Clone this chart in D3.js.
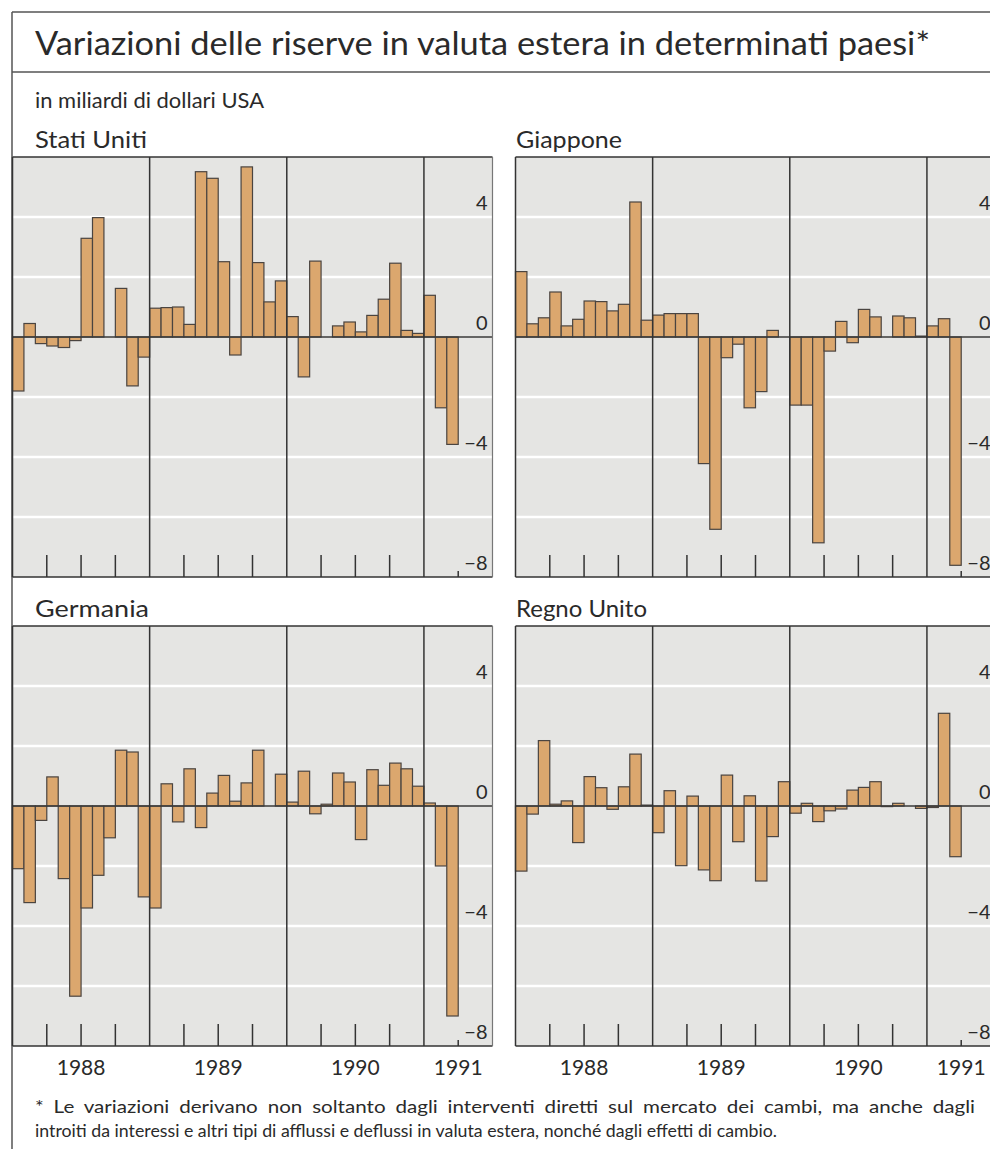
<!DOCTYPE html>
<html><head><meta charset="utf-8">
<script src="https://cdn.jsdelivr.net/npm/d3@7"></script>
<style>body{margin:0;background:#fff}svg{display:block}</style>
</head><body>
<svg id="c" width="990" height="1149"></svg>
<script>
// ---- data ----
const years = ["1988", "1989", "1990", "1991"];
const monthsOnAxis = 42;          // Jan 1988 .. Jun 1991 axis span
const countries = ["Stati Uniti", "Giappone", "Germania", "Regno Unito"];
const usa = [
  -1.8, 0.45, -0.22, -0.3, -0.35, -0.12, 3.29, 3.98, 0, 1.62, -1.63, -0.67,
  0.96, 0.98, 1.0, 0.42, 5.51, 5.29, 2.51, -0.6, 5.67, 2.48, 1.17, 1.87,
  0.68, -1.33, 2.53, 0, 0.37, 0.5, 0.17, 0.72, 1.26, 2.46, 0.22, 0.12,
  1.39, -2.36, -3.58
];
const japan = [
  2.18, 0.44, 0.64, 1.5, 0.37, 0.59, 1.2, 1.18, 0.87, 1.09, 4.5, 0.56,
  0.73, 0.78, 0.78, 0.78, -4.22, -6.41, -0.69, -0.24, -2.36, -1.82, 0.22, 0,
  -2.27, -2.27, -6.86, -0.47, 0.52, -0.19, 0.92, 0.67, 0, 0.7, 0.64, 0.03,
  0.37, 0.61, -7.61
];
const germany = [
  -2.09, -3.22, -0.48, 0.97, -2.42, -6.34, -3.4, -2.31, -1.06, 1.86, 1.8, -3.03,
  -3.4, 0.74, -0.53, 1.24, -0.72, 0.43, 1.02, 0.16, 0.77, 1.86, 0, 1.06,
  0.13, 1.16, -0.26, 0.06, 1.1, 0.8, -1.12, 1.21, 0.69, 1.43, 1.24, 0.66,
  0.1, -2.0, -7.0
];
const uk = [
  -2.17, -0.27, 2.18, 0.06, 0.17, -1.22, 0.98, 0.61, -0.11, 0.64, 1.73, 0.03,
  -0.89, 0.51, -1.99, 0.33, -2.13, -2.49, 1.03, -1.19, 0.34, -2.5, -1.02, 0.81,
  -0.24, 0.09, -0.52, -0.16, -0.1, 0.53, 0.62, 0.81, -0.02, 0.09, 0, -0.08,
  -0.05, 3.09, -1.69
];
const yTickValues = [4, 0, -4, -8];
const yGridValues = [-6, -4, -2, 2, 4];
const quarterTicks = [3, 6, 9, 15, 18, 21, 27, 30, 33];
const yearBreaks = [12, 24, 36];
const lastTick = 39;
const titleText = "Variazioni delle riserve in valuta estera in determinati paesi*";
const subtitleText = "in miliardi di dollari USA";
const noteLines = [
  "* Le variazioni derivano non soltanto dagli interventi diretti sul mercato dei cambi, ma anche dagli",
  "introiti da interessi e altri tipi di afflussi e deflussi in valuta estera, nonché dagli effetti di cambio."
];

// ---- layout ----
const FONT = "Lato, 'Open Sans', sans-serif";
const svg = d3.select("#c");
const ink = "#2a2a2a";
svg.append("rect").attr("width", 990).attr("height", 1149).attr("fill", "#fff");

// outer frame
svg.append("line").attr("x1", 12).attr("x2", 990).attr("y1", 12).attr("y2", 12).attr("stroke", "#555").attr("stroke-width", 1.5);
svg.append("line").attr("x1", 12).attr("x2", 990).attr("y1", 72).attr("y2", 72).attr("stroke", "#555").attr("stroke-width", 1.5);
svg.append("line").attr("x1", 12).attr("x2", 12).attr("y1", 12).attr("y2", 1149).attr("stroke", "#555").attr("stroke-width", 1.5);

svg.append("text").attr("x", 35).attr("y", 55).attr("font-family", FONT).attr("font-size", 33)
  .attr("fill", ink).attr("textLength", 895).attr("lengthAdjust", "spacingAndGlyphs").text(titleText);
svg.append("text").attr("x", 35).attr("y", 108).attr("font-family", FONT).attr("font-size", 22)
  .attr("fill", ink).attr("textLength", 229).attr("lengthAdjust", "spacingAndGlyphs").text(subtitleText);

const datasets = [usa, japan, germany, uk];
const labelWidths = [112, 106, 114, 131];
const PW = 480, PH = 420;
const panelPos = [
  {x: 12.5, y: 157, lx: 35}, {x: 515.5, y: 157, lx: 516},
  {x: 12.5, y: 626, lx: 35}, {x: 515.5, y: 626, lx: 516}
];

datasets.forEach((vals, k) => {
  const p = panelPos[k];
  const g = svg.append("g");
  const x = d3.scaleBand().domain(d3.range(monthsOnAxis)).range([p.x, p.x + PW]).padding(0);
  const y = d3.scaleLinear().domain([-8, 6]).range([p.y + PH, p.y]);
  const xEdge = i => (i >= monthsOnAxis ? p.x + PW : x(i));

  g.append("text").attr("x", p.lx).attr("y", p.y - 9).attr("font-family", FONT)
    .attr("font-size", 23).attr("fill", ink)
    .attr("textLength", labelWidths[k]).attr("lengthAdjust", "spacingAndGlyphs").text(countries[k]);

  g.append("rect").attr("x", p.x).attr("y", p.y).attr("width", PW).attr("height", PH).attr("fill", "#e5e5e3");

  g.selectAll(".grid").data(yGridValues).join("line")
    .attr("x1", p.x).attr("x2", p.x + PW).attr("y1", d => y(d)).attr("y2", d => y(d))
    .attr("stroke", "#fff").attr("stroke-width", 2.5);

  g.selectAll(".bar").data(vals).join("rect")
    .attr("x", (d, i) => x(i)).attr("width", x.bandwidth())
    .attr("y", d => y(Math.max(0, d))).attr("height", d => Math.abs(y(d) - y(0)))
    .attr("fill", "#dba76e").attr("stroke", "#4a4440").attr("stroke-width", 1.2);

  g.append("line").attr("x1", p.x).attr("x2", p.x + PW).attr("y1", y(0)).attr("y2", y(0))
    .attr("stroke", "#3a3a3a").attr("stroke-width", 1.5);

  g.selectAll(".yr").data(yearBreaks).join("line")
    .attr("x1", d => xEdge(d)).attr("x2", d => xEdge(d)).attr("y1", p.y).attr("y2", p.y + PH)
    .attr("stroke", "#333").attr("stroke-width", 1.5);

  g.selectAll(".qt").data(quarterTicks).join("line")
    .attr("x1", d => xEdge(d)).attr("x2", d => xEdge(d)).attr("y1", p.y + PH - 22).attr("y2", p.y + PH)
    .attr("stroke", "#333").attr("stroke-width", 1.5);
  g.append("line").attr("x1", xEdge(lastTick)).attr("x2", xEdge(lastTick))
    .attr("y1", p.y + PH - 6).attr("y2", p.y + PH).attr("stroke", "#333").attr("stroke-width", 1.5);

  // border
  g.append("line").attr("x1", p.x).attr("x2", p.x + PW).attr("y1", p.y).attr("y2", p.y).attr("stroke", "#333").attr("stroke-width", 1.5);
  g.append("line").attr("x1", p.x).attr("x2", p.x + PW).attr("y1", p.y + PH).attr("y2", p.y + PH).attr("stroke", "#333").attr("stroke-width", 1.5);
  g.append("line").attr("x1", p.x).attr("x2", p.x).attr("y1", p.y).attr("y2", p.y + PH).attr("stroke", "#333").attr("stroke-width", 1.5);
  g.append("line").attr("x1", p.x + PW).attr("x2", p.x + PW).attr("y1", p.y).attr("y2", p.y + PH).attr("stroke", "#777").attr("stroke-width", 1.2);

  g.selectAll(".yl").data(yTickValues).join("text")
    .attr("x", p.x + PW - 5).attr("y", d => y(d) - 7).attr("text-anchor", "end")
    .attr("font-family", FONT).attr("font-size", 20).attr("fill", ink)
    .text(d => d < 0 ? "\u2212" + Math.abs(d) : String(d));

  if (k >= 2) {
    const centers = [xEdge(6), xEdge(18), xEdge(30), (xEdge(36) + p.x + PW) / 2];
    g.selectAll(".yrl").data(years).join("text")
      .attr("x", (d, i) => centers[i]).attr("y", p.y + PH + 29).attr("text-anchor", "middle")
      .attr("font-family", FONT).attr("font-size", 21).attr("fill", ink).text(d => d);
  }
});

// footnote
svg.append("text").attr("x", 35).attr("y", 1113).attr("font-family", FONT).attr("font-size", 18)
  .attr("fill", ink).attr("word-spacing", 4)
  .attr("textLength", 940).attr("lengthAdjust", "spacingAndGlyphs").text(noteLines[0]);
svg.append("text").attr("x", 35).attr("y", 1137).attr("font-family", FONT).attr("font-size", 18)
  .attr("fill", ink).attr("textLength", 742).attr("lengthAdjust", "spacingAndGlyphs").text(noteLines[1]);
</script>
</body></html>
